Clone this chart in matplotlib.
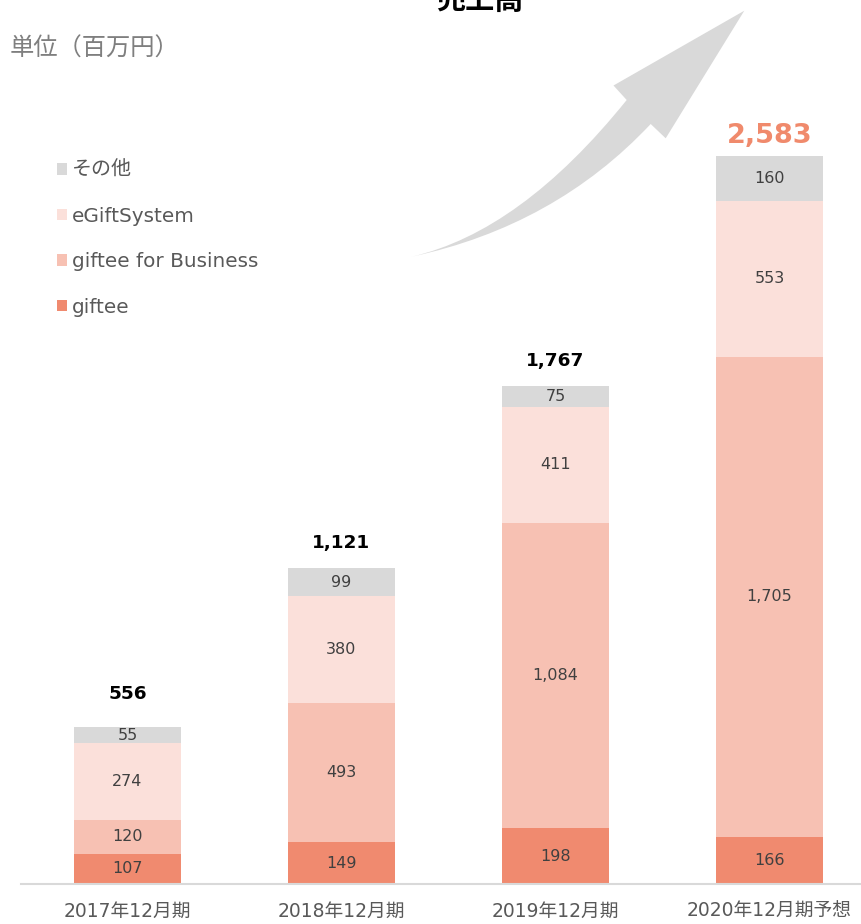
import matplotlib
matplotlib.use("Agg")
import matplotlib.pyplot as plt
from matplotlib.patches import Patch, PathPatch
from matplotlib.path import Path
import numpy as np

plt.rcParams['font.family'] = ['DejaVu Sans', 'Noto Sans CJK JP']

# ---- data ----
periods = ["2017年12月期", "2018年12月期", "2019年12月期", "2020年12月期予想"]
giftee = [107, 149, 198, 166]
giftee_business = [120, 493, 1084, 1705]
egift_system = [274, 380, 411, 553]
other = [55, 99, 75, 160]
totals = [556, 1121, 1767, 2583]
series_names = ["giftee", "giftee for Business", "eGiftSystem", "その他"]
series_values = [giftee, giftee_business, egift_system, other]
colors = ["#F08A6F", "#F7C1B3", "#FBE0DA", "#D9D9D9"]

W, H = 862, 924
fig = plt.figure(figsize=(W / 100, H / 100), dpi=100)
base_px = 884
scale = 0.28184  # px per unit
ax = fig.add_axes([21 / W, (H - base_px) / H, (W - 21) / W, base_px / H])
ax.patch.set_alpha(0)
ax.set_xlim((21 - 127.5) / 214, (W - 127.5) / 214)
ax.set_ylim(0, base_px / scale)

x = np.arange(len(periods))
bottom = np.zeros(len(periods))
for name, vals, col in zip(series_names, series_values, colors):
    bars = ax.bar(x, vals, width=0.5, bottom=bottom, color=col, label=name, zorder=2)
    ax.bar_label(bars, labels=[f"{v:,}" for v in vals], label_type='center',
                 fontsize=11.5, color="#404040")
    bottom += np.array(vals)

# totals
offsets_px = [33, 25, 25, 20]
for i, t in enumerate(totals):
    last = (i == len(totals) - 1)
    ax.text(x[i], t + offsets_px[i] / scale, f"{t:,}", ha='center', va='center',
            fontsize=19.5 if last else 13.3, fontweight='bold',
            color="#F08A6C" if last else "#000000")

for s in ['top', 'left', 'right']:
    ax.spines[s].set_visible(False)
ax.spines['bottom'].set_color('#D9D9D9')
ax.spines['bottom'].set_linewidth(1.5)
ax.set_yticks([])
ax.set_xticks(x, periods)
ax.tick_params(axis='x', length=0, pad=13, labelsize=13.5, labelcolor='#595959')

# legend
handles = [Patch(facecolor=c, edgecolor='none') for c in colors][::-1]
labels = series_names[::-1]
leg = fig.legend(handles, labels, loc='upper left',
                 bbox_to_anchor=(57 / W, 1 - 161 / H), frameon=False,
                 fontsize=14.4, labelcolor='#595959', handlelength=0.5,
                 handleheight=0.5, handletextpad=0.25, labelspacing=1.33,
                 borderpad=0, borderaxespad=0)

# unit text
fig.text(10 / W, 1 - 49 / H, "単位（百万円）", fontsize=17.5, color='#7F7F7F',
         ha='left', va='center', family=['Noto Sans CJK JP', 'DejaVu Sans'])

# title (cut off at top, as in the reference)
fig.text(480 / W, 1 - 9 / H, "売上高", fontsize=21, fontweight='bold', color='black',
         ha='center', va='baseline', family=['Noto Sans CJK JP', 'DejaVu Sans'])

# decorative arrow
def P(px, py):
    return (px / W, 1 - py / H)

verts = [P(411.7, 256.7), P(520.8, 231.6), P(626.7, 100),
         P(613.5, 85.5), P(744.3, 10.7), P(665.7, 138.3), P(650.7, 124),
         P(555, 226), P(411.7, 256.7), P(411.7, 256.7)]
codes = [Path.MOVETO, Path.CURVE3, Path.CURVE3,
         Path.LINETO, Path.LINETO, Path.LINETO, Path.LINETO,
         Path.CURVE3, Path.CURVE3, Path.CLOSEPOLY]
arrow = PathPatch(Path(verts, codes), facecolor='#D9D9D9', edgecolor='none',
                  transform=fig.transFigure)
fig.add_artist(arrow)

fig.savefig("out.png", dpi=100)
